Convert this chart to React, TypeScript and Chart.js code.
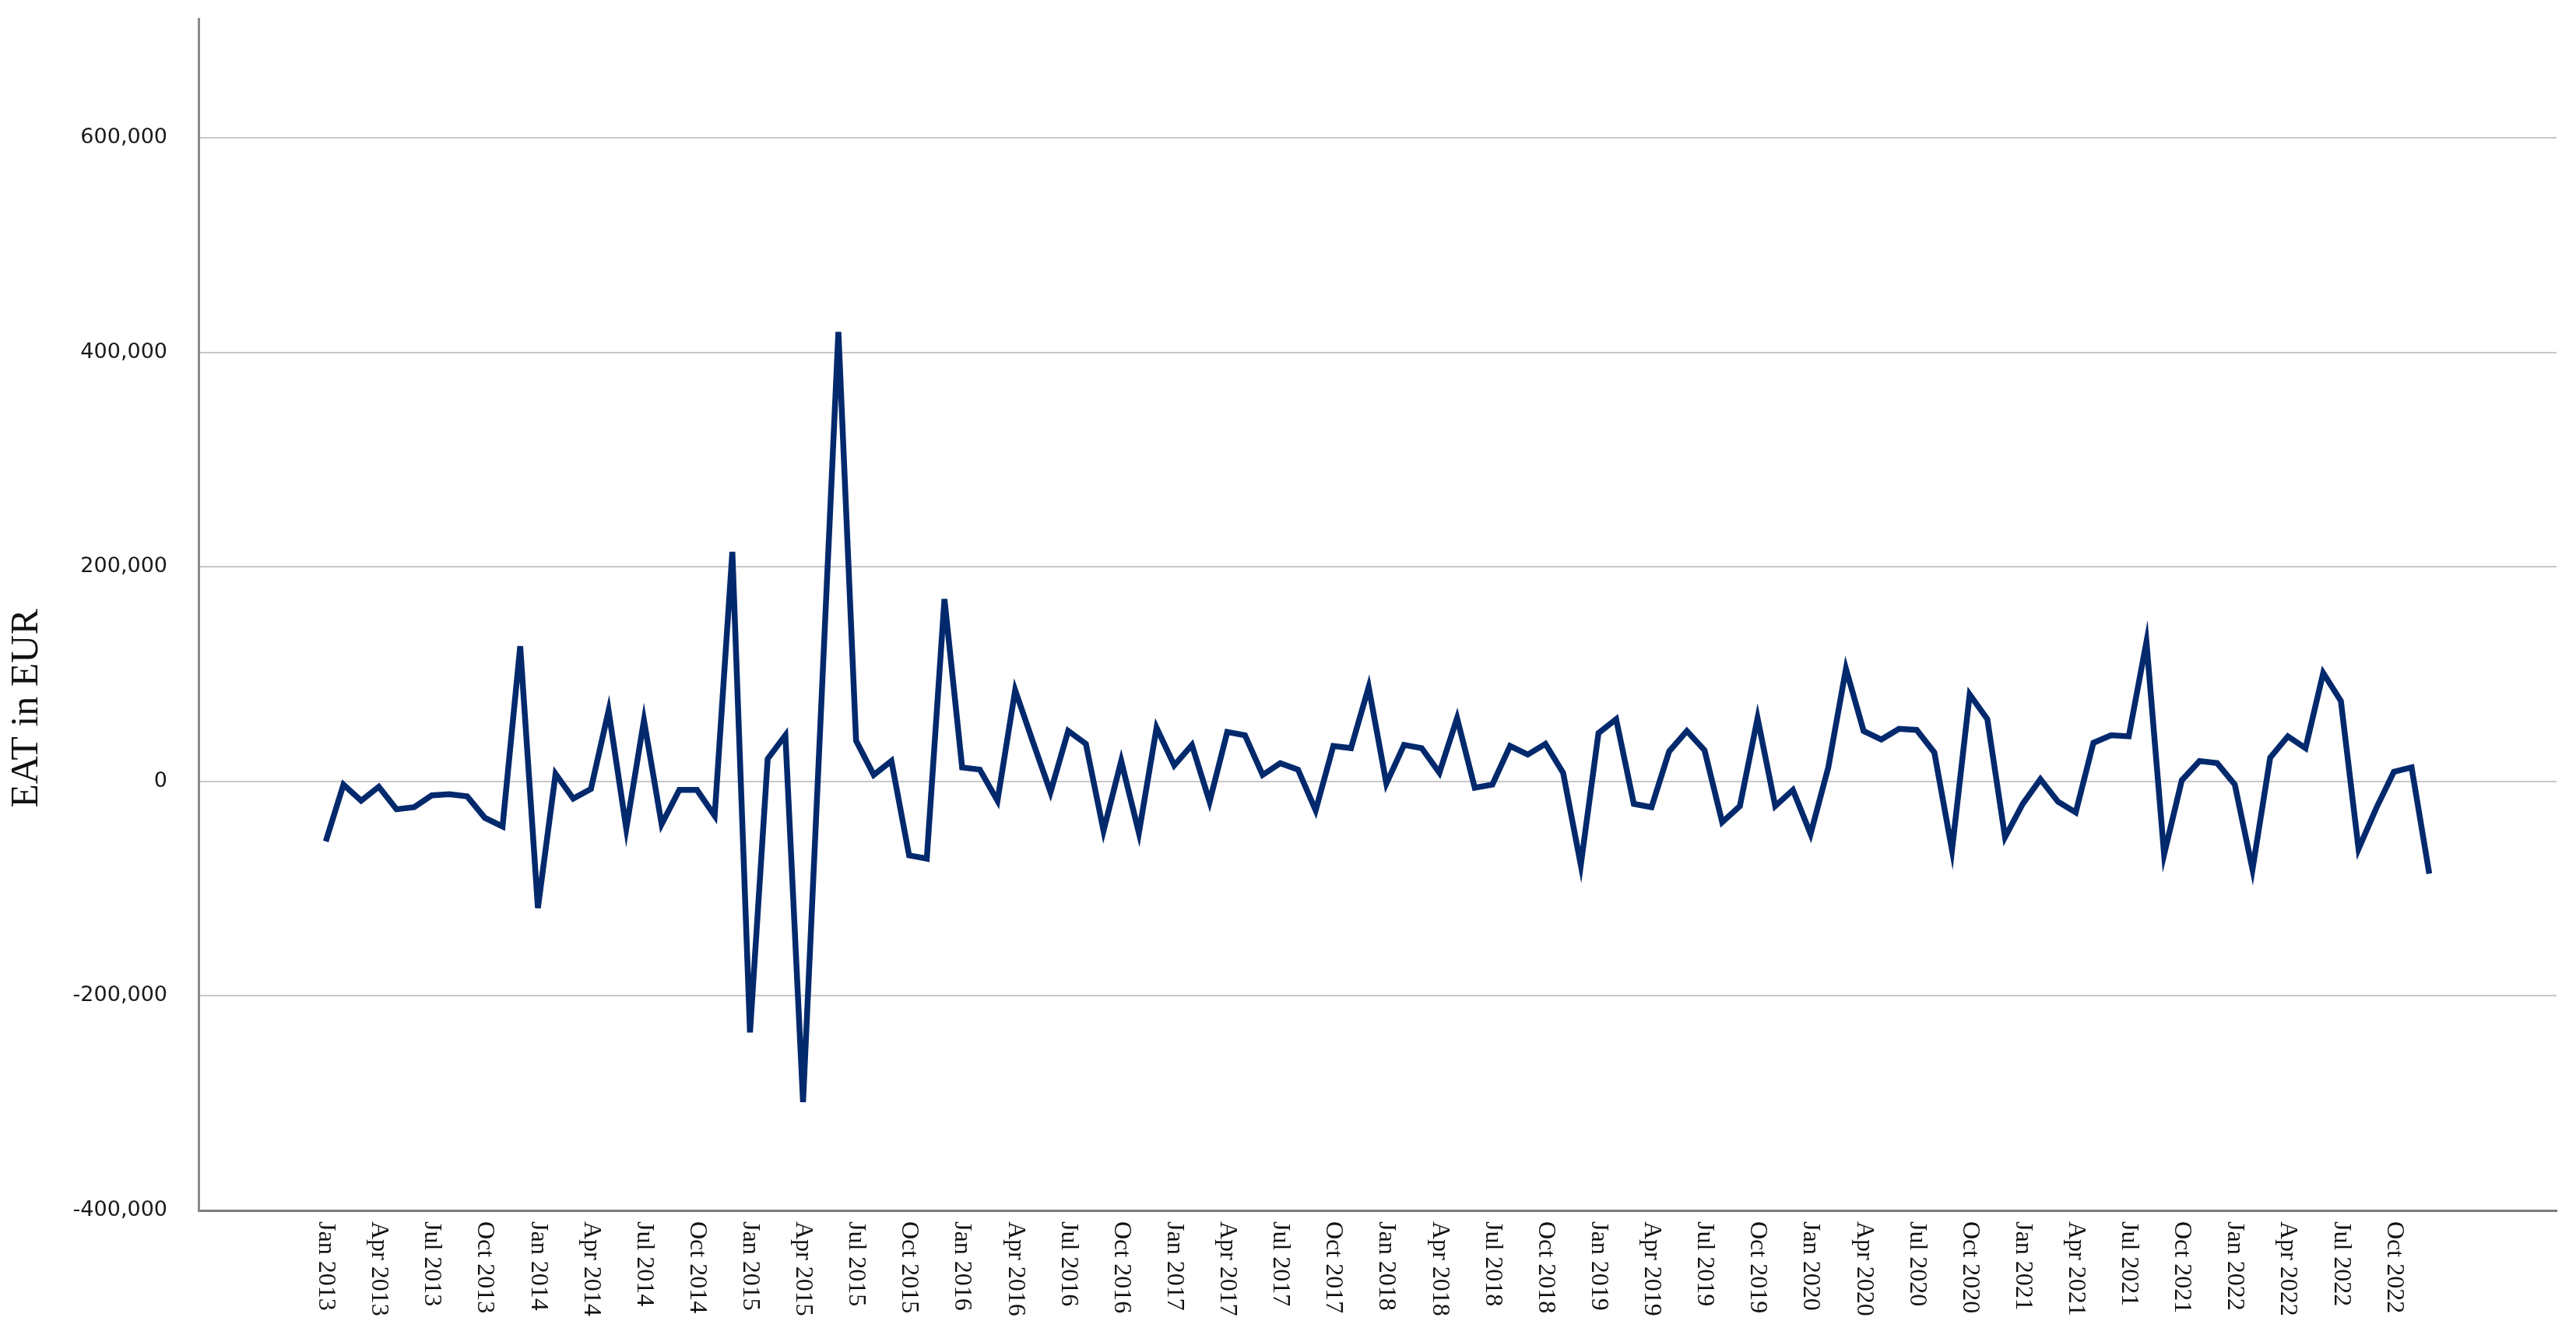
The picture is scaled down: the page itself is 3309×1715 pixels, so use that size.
import { useEffect, useRef } from 'react';
import { Chart, registerables } from 'chart.js';

Chart.register(...registerables);

const monthNames = ['Jan', 'Feb', 'Mar', 'Apr', 'May', 'Jun', 'Jul', 'Aug', 'Sep', 'Oct', 'Nov', 'Dec'];
const years = [2013, 2014, 2015, 2016, 2017, 2018, 2019, 2020, 2021, 2022];

// Monthly categories Jan 2013 .. Dec 2022
const categories: string[] = years.flatMap((y) => monthNames.map((m) => `${m} ${y}`));

// Tick labels shown on the x axis (every third month)
const tickLabels: string[] = categories.filter((_, i) => i % 3 === 0);
const tickIndex: number[] = categories.map((_, i) => i).filter((i) => i % 3 === 0);

// EAT in EUR, one value per month
const eatValues: number[] = [
  -56000, -3000, -18000, -5000, -26000, -24000, -13000, -12000, -14000, -34000, -42000, 126000,
  -118000, 7000, -16000, -7000, 66000, -44000, 57000, -40000, -8000, -8000, -32000, 214000,
  -234000, 21000, 43000, -299000, 60000, 419000, 38000, 6000, 19000, -69000, -72000, 170000,
  13000, 11000, -18000, 85000, 37000, -10000, 47000, 35000, -46000, 19000, -48000, 50000,
  15000, 34000, -19000, 46000, 43000, 6000, 17000, 11000, -27000, 33000, 31000, 88000,
  -2000, 34000, 31000, 8000, 59000, -6000, -3000, 33000, 25000, 35000, 8000, -78000,
  45000, 58000, -21000, -24000, 28000, 47000, 29000, -38000, -23000, 59000, -23000, -8000,
  -49000, 13000, 105000, 47000, 39000, 49000, 48000, 27000, -64000, 81000, 58000, -52000,
  -21000, 2000, -19000, -29000, 36000, 43000, 42000, 130000, -68000, 1000, 19000, 17000,
  -3000, -82000, 22000, 42000, 31000, 101000, 75000, -63000, -25000, 9000, 13000, -86000,
];

const yTicks: number[] = [-400000, -200000, 0, 200000, 400000, 600000];
const yMin = -400000;
const yMax = 711000;
const yTitle = 'EAT in EUR';

const labelPlugin = {
  id: 'customLabels',
  afterDraw(chart: any) {
    const ctx = chart.ctx as CanvasRenderingContext2D;
    const xs = chart.scales.x;
    const area = chart.chartArea;
    ctx.save();
    ctx.font = '32px "Liberation Serif"';
    ctx.fillStyle = '#111111';
    ctx.textAlign = 'left';
    ctx.textBaseline = 'middle';
    tickIndex.forEach((v, k) => {
      const x = xs.getPixelForValue(v);
      ctx.save();
      ctx.translate(x, area.bottom + 14);
      ctx.rotate(Math.PI / 2);
      ctx.fillText(tickLabels[k], 0, 0);
      ctx.restore();
    });
    // y axis title
    ctx.save();
    ctx.font = '50px "Liberation Serif"';
    ctx.fillStyle = '#111111';
    ctx.textAlign = 'center';
    ctx.textBaseline = 'middle';
    ctx.translate(35, area.bottom - 645);
    ctx.rotate(-Math.PI / 2);
    ctx.fillText(yTitle, 0, 0);
    ctx.restore();
    ctx.restore();
  },
};

export default function App() {
  const canvasRef = useRef<HTMLCanvasElement | null>(null);

  useEffect(() => {
    document.body.style.margin = '0';
    document.body.style.overflow = 'hidden';
    const canvas = canvasRef.current;
    if (!canvas) return;
    const chart = new Chart(canvas, {
      type: 'line',
      data: {
        datasets: [
          {
            data: eatValues.map((v, i) => ({ x: i, y: v })),
            borderColor: '#03296d',
            borderWidth: 7.5,
            borderJoinStyle: 'miter',
            pointRadius: 0,
            tension: 0,
            fill: false,
          },
        ],
      },
      options: {
        animation: false,
        responsive: false,
        devicePixelRatio: 1,
        layout: { padding: { top: 24, right: 25, left: 0, bottom: 0 } },
        plugins: {
          legend: { display: false },
          tooltip: { enabled: false },
        },
        scales: {
          x: {
            type: 'linear',
            min: -7.2,
            max: categories.length - 1 + 7.2,
            grid: { display: false },
            border: { display: true, color: '#7a7a7a', width: 3 },
            ticks: { display: false },
            afterFit: (s: any) => {
              s.height = 160;
              s.paddingLeft = 0;
              s.paddingRight = 0;
            },
          },
          y: {
            type: 'linear',
            min: yMin,
            max: yMax,
            afterBuildTicks: (s: any) => {
              s.ticks = yTicks.map((v) => ({ value: v }));
            },
            ticks: {
              font: { family: 'DejaVu Sans', size: 27 },
              color: '#1a1a1a',
              padding: 40,
              callback: (v: any) => Number(v).toLocaleString('en-US'),
            },
            grid: { color: '#c8c8c8', lineWidth: 2, drawTicks: false },
            border: { display: true, color: '#8a8a8a', width: 3 },
            afterFit: (s: any) => {
              s.width = 255;
              s.paddingTop = 0;
              s.paddingBottom = 0;
            },
          },
        },
      },
      plugins: [labelPlugin],
    });
    return () => chart.destroy();
  }, []);

  return (
    <div style={{ width: 3309, height: 1715 }}>
      <canvas ref={canvasRef} width={3309} height={1715} style={{ display: 'block' }} />
    </div>
  );
}
